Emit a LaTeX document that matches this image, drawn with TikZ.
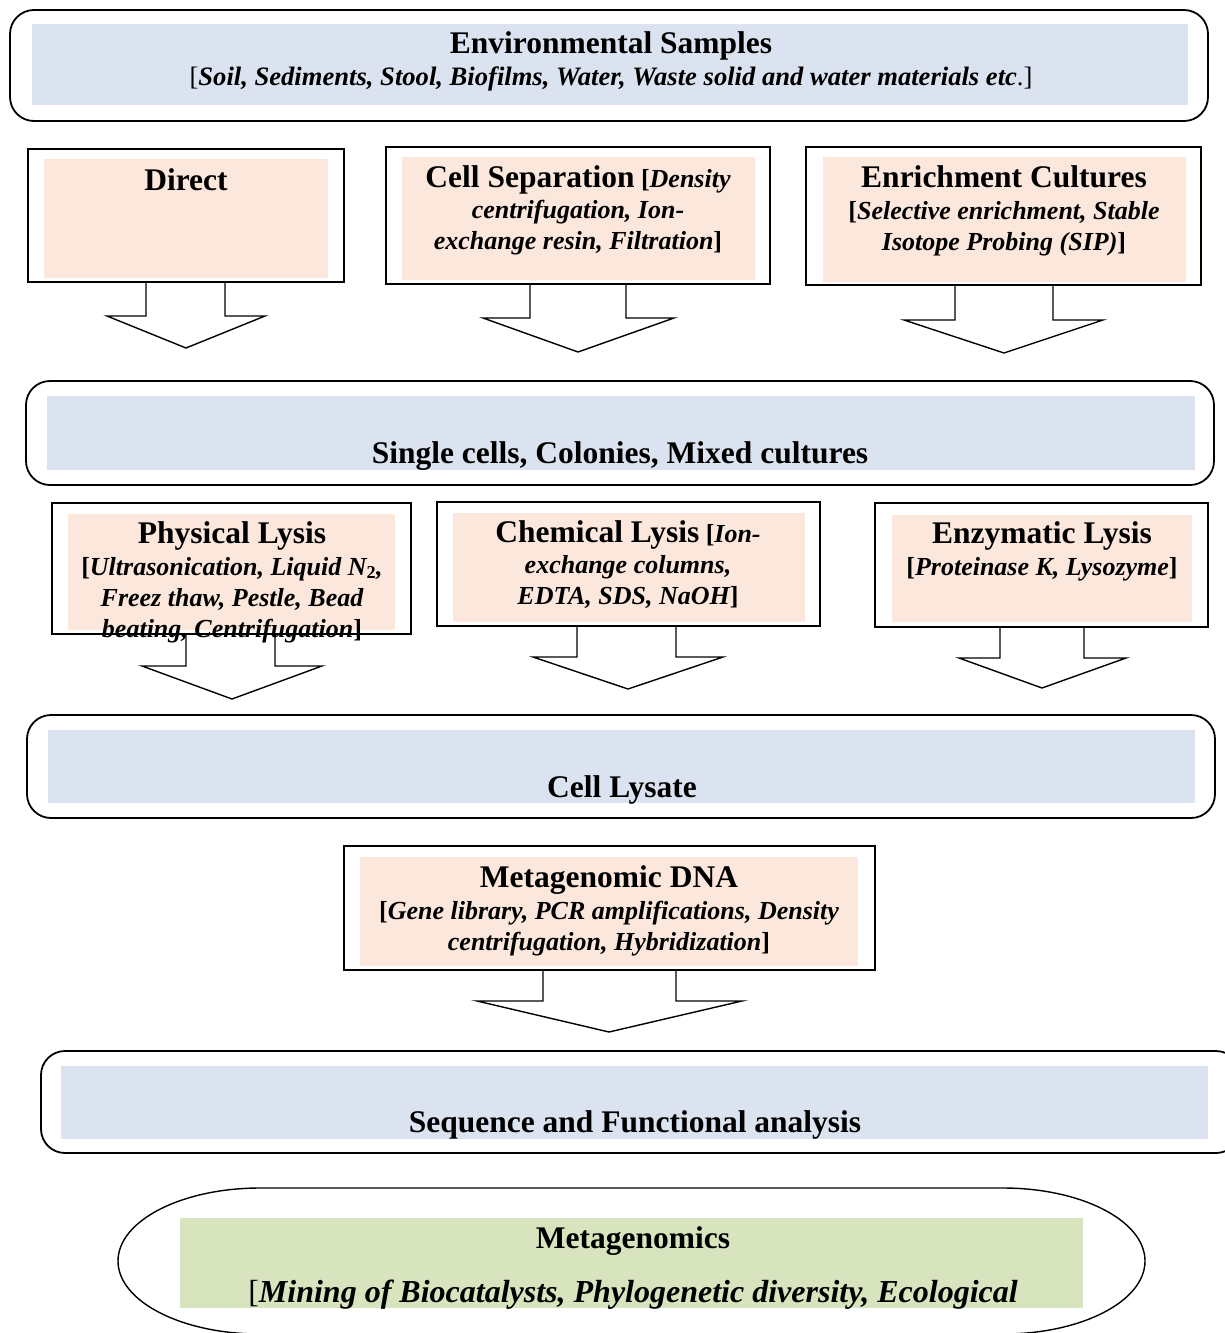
\documentclass[tikz,border=0pt]{standalone}
\usepackage{fontspec}
\setmainfont{Liberation Serif}
\usepackage{tikz}
\usetikzlibrary{fit}
\usetikzlibrary{calc}
\definecolor{bluefill}{RGB}{220,227,240}
\definecolor{peachfill}{RGB}{251,231,219}
\definecolor{greenfill}{RGB}{215,228,189}
\newcommand\boxtitle{\fontsize{31.5}{34}\selectfont\bfseries\upshape}
\newcommand\boxnote{\fontsize{26}{31}\selectfont\bfseries\itshape}
\tikzset{roundbox/.style = {draw,line width=1.8pt,rounded corners=24pt,inner sep=0pt}}
\tikzset{squarebox/.style = {draw,line width=1.6pt,inner sep=0pt}}
\tikzset{fillbox/.style = {fill=#1,inner sep=0pt}}
\tikzset{boxtext/.style = {align=center,inner sep=0pt,anchor=north,font=\boxnote}}
\tikzset{callline/.style = {line width=1.4pt,line join=miter}}
% block arrow under a callout box: box, shaft l/r, head l/r, tip x, head y, tip y
\newcommand\callarrow[8]{%
  \draw[callline] (#2,0 |- #1.south) -- (#2,#7) -- (#4,#7) -- (#6,#8)
    -- (#5,#7) -- (#3,#7) -- (#3,0 |- #1.south);}

\begin{document}
\begin{tikzpicture}[x=1pt,y=-1pt]
                    \useasboundingbox (0,0) rectangle (1225,1333);
                    \clip (0,0) rectangle (1225,1333);

                    \node[roundbox, fit={(10,10) (1208,121)}] (env) {};
                    \node[fillbox=bluefill, fit={(32,24) (1188,105)}] (envfill) {};
                    \node[boxtext] (envtxt) at (611,31) {{\boxtitle Environmental Samples}\\[1pt]{\fontsize{26.6}{31}\selectfont{\mdseries\upshape[}Soil, Sediments, Stool, Biofilms, Water, Waste solid and water materials etc{\mdseries\upshape.]}}};

                    \node[squarebox, fit={(28,149) (344,282)}] (direct) {};
                    \node[fillbox=peachfill, fit={(44,159) (328,278)}] (directfill) {};
                    \node[boxtext] (directtxt) at (186,168) {\boxtitle Direct};
                    \callarrow{direct}{146}{225}{107}{265}{186}{316}{348}

                    \node[squarebox, fit={(386,147) (770,284)}] (cellsep) {};
                    \node[fillbox=peachfill, fit={(402,157) (755,280)}] (cellsepfill) {};
                    \node[boxtext] (cellseptxt) at (578,165) {{\boxtitle Cell Separation} {\upshape[}Density\\centrifugation, Ion-\\exchange resin, Filtration{\upshape]}};
                    \callarrow{cellsep}{530}{626}{483}{674}{578}{318}{352}

                    \node[squarebox, fit={(806,147) (1201,285)}] (enrich) {};
                    \node[fillbox=peachfill, fit={(823,157) (1186,282)}] (enrichfill) {};
                    \node[boxtext] (enrichtxt) at (1004,165) {{\boxtitle Enrichment Cultures}\\[1pt]{\upshape[}Selective enrichment, Stable\\Isotope Probing (SIP){\upshape]}};
                    \callarrow{enrich}{955}{1053}{904}{1103}{1004}{320}{353}

                    \node[roundbox, fit={(26,381) (1214,485)}] (cells) {};
                    \node[fillbox=bluefill, fit={(47,396) (1195,470)}] (cellsfill) {};
                    \node[boxtext] (cellstxt) at (620,441) {\boxtitle Single cells, Colonies, Mixed cultures};

                    \node[squarebox, fit={(52,503) (411,634)}] (physical) {};
                    \node[fillbox=peachfill, fit={(68,514) (395,630)}] (physicalfill) {};
                    \node[boxtext] (physicaltxt) at (232,521) {{\boxtitle Physical Lysis}\\[1pt]{\upshape[}Ultrasonication, Liquid N\textsubscript{\upshape 2},\\Freez thaw, Pestle, Bead\\beating, Centrifugation{\upshape]}};
                    \callarrow{physical}{186}{275}{142}{322}{232}{666}{699}

                    \node[squarebox, fit={(437,502) (820,626)}] (chemical) {};
                    \node[fillbox=peachfill, fit={(453,513) (805,622)}] (chemicalfill) {};
                    \node[boxtext] (chemicaltxt) at (628,520) {{\boxtitle Chemical Lysis} {\upshape[}Ion-\\exchange columns,\\EDTA, SDS, NaOH{\upshape]}};
                    \callarrow{chemical}{577}{676}{533}{723}{628}{657}{689}

                    \node[squarebox, fit={(875,503) (1208,627)}] (enzymatic) {};
                    \node[fillbox=peachfill, fit={(892,515) (1192,622)}] (enzymaticfill) {};
                    \node[boxtext] (enzymatictxt) at (1042,521) {{\boxtitle Enzymatic Lysis}\\[1pt]{\upshape[}Proteinase K, Lysozyme{\upshape]}};
                    \callarrow{enzymatic}{1000}{1084}{959}{1126}{1042}{658}{688}

                    \node[roundbox, fit={(27,715) (1215,818)}] (lysate) {};
                    \node[fillbox=bluefill, fit={(48,730) (1195,803)}] (lysatefill) {};
                    \node[boxtext] (lysatetxt) at (622,775) {\boxtitle Cell Lysate};

                    \node[squarebox, fit={(344,846) (875,970)}] (metadna) {};
                    \node[fillbox=peachfill, fit={(360,857) (858,966)}] (metadnafill) {};
                    \node[boxtext] (metadnatxt) at (609,865) {{\boxtitle Metagenomic DNA}\\[1pt]{\upshape[}Gene library, PCR amplifications, Density\\centrifugation, Hybridization{\upshape]}};
                    \callarrow{metadna}{543}{676}{477}{742}{609}{1001}{1032}

                    \node[roundbox, fit={(41,1051) (1240,1153)}] (analysis) {};
                    \node[fillbox=bluefill, fit={(61,1066) (1208,1139)}] (analysisfill) {};
                    \node[boxtext] (analysistxt) at (635,1110) {\boxtitle Sequence and Functional analysis};

                    % rounded end shape at the bottom
                    \draw[line width=1.4pt] (260,1188) -- (1003,1188)
                      arc[start angle=-90,end angle=90,x radius=142,y radius=73] -- (260,1334)
                      arc[start angle=90,end angle=270,x radius=142,y radius=73] -- cycle;
                    \node[fillbox=greenfill, fit={(180,1218) (1083,1308)}] (metafill) {};
                    \node[boxtext, font=\boxtitle] (metatxt) at (633,1226) {Metagenomics\\[20pt]{\fontsize{32}{34}\selectfont\itshape{\mdseries\upshape[}Mining of Biocatalysts, Phylogenetic diversity, Ecological}};
                \end{tikzpicture}
\end{document}
